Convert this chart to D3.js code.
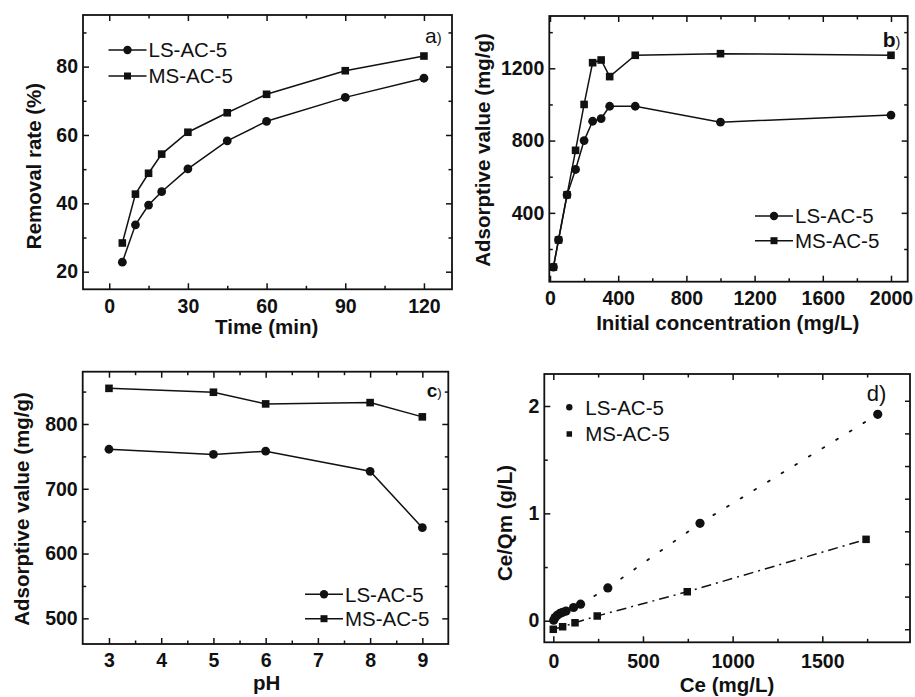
<!DOCTYPE html>
<html>
<head>
<meta charset="utf-8">
<script src="https://cdn.jsdelivr.net/npm/d3@7"></script>
<style>
  body { margin: 0; background: #fff; }
  text { font-family: "Liberation Sans", Arial, sans-serif; fill: #111; }
  .tick text { font-weight: bold; font-size: 19.5px; }
</style>
</head>
<body>
<div id="chart"></div>
<script>
// a) removal rate vs time
const timeMin = [5, 10, 15, 20, 30, 45, 60, 90, 120];
const removalLS = [22.8, 33.7, 39.5, 43.4, 50.1, 58.3, 64.0, 71.0, 76.6];
const removalMS = [28.4, 42.7, 48.8, 54.4, 60.8, 66.5, 71.9, 78.8, 83.1];

// b) adsorptive value vs initial concentration
const concInit = [20, 50, 100, 150, 200, 250, 300, 350, 500, 1000, 2000];
const adsorbLS = [100, 250, 500, 640, 800, 907, 922, 990, 990, 902, 941];
const adsorbMS = [100, 250, 500, 746, 1000, 1231, 1246, 1154, 1272, 1281, 1272];

// c) adsorptive value vs pH
const phValues = [3, 5, 6, 8, 9];
const phLS = [761, 753, 758, 727, 640];
const phMS = [855, 849, 831, 833, 811];

// d) Ce/Qm vs Ce
const ceLS = [2, 10, 22, 37, 52, 71, 113, 152, 304, 818, 1809];
const ceQmLS = [0.005, 0.03, 0.05, 0.068, 0.078, 0.09, 0.123, 0.154, 0.305, 0.907, 1.922];
const ceMS = [0, 52, 121, 245, 747, 1744];
const ceQmMS = [-0.08, -0.056, -0.019, 0.044, 0.27, 0.758];

const seriesNames = ["LS-AC-5", "MS-AC-5"];

const svg = d3.select("#chart").append("svg")
  .attr("width", 915)
  .attr("height", 697);

svg.append("rect").attr("width", 915).attr("height", 697).attr("fill", "#fff");

function zip(xs, ys) {
  return xs.map((v, i) => [v, ys[i]]);
}

function panel(p) {
  const g = svg.append("g");
  const x = d3.scaleLinear().domain(p.xDomain).range([p.left, p.right]);
  const y = d3.scaleLinear().domain(p.yDomain).range([p.bottom, p.top]);

  const tidy = sel => {
    sel.select(".domain").remove();
    sel.attr("font-family", null).attr("font-size", null);
    sel.selectAll("line").attr("stroke", "#111").attr("stroke-width", 1.5);
    sel.selectAll("text").attr("fill", "#111");
  };

  // bottom + top
  g.append("g").attr("transform", `translate(0,${p.bottom})`)
    .call(d3.axisBottom(x).tickValues(p.xTicks).tickSize(-6).tickPadding(p.xPad).tickFormat(d3.format("d")))
    .call(tidy);
  g.append("g").attr("transform", `translate(0,${p.bottom})`)
    .call(d3.axisBottom(x).tickValues(p.xMinor).tickSize(-3.5).tickFormat(""))
    .call(tidy);
  g.append("g").attr("transform", `translate(0,${p.top})`)
    .call(d3.axisTop(x).tickValues(p.xTicks).tickSize(-6).tickFormat(""))
    .call(tidy);
  g.append("g").attr("transform", `translate(0,${p.top})`)
    .call(d3.axisTop(x).tickValues(p.xMinor).tickSize(-3.5).tickFormat(""))
    .call(tidy);

  // left + right
  g.append("g").attr("transform", `translate(${p.left},0)`)
    .call(d3.axisLeft(y).tickValues(p.yTicks).tickSize(-6).tickPadding(5).tickFormat(d3.format("d")))
    .call(tidy);
  g.append("g").attr("transform", `translate(${p.left},0)`)
    .call(d3.axisLeft(y).tickValues(p.yMinor).tickSize(-3.5).tickFormat(""))
    .call(tidy);
  if (p.rightAxis) {
    g.append("g").attr("transform", `translate(${p.right},0)`)
      .call(p.rightAxis.tickFormat(""))
      .call(tidy);
  } else {
    g.append("g").attr("transform", `translate(${p.right},0)`)
      .call(d3.axisRight(y).tickValues(p.yTicks).tickSize(-6).tickFormat(""))
      .call(tidy);
    g.append("g").attr("transform", `translate(${p.right},0)`)
      .call(d3.axisRight(y).tickValues(p.yMinor).tickSize(-3.5).tickFormat(""))
      .call(tidy);
  }

  // frame
  g.append("rect")
    .attr("x", p.left).attr("y", p.top)
    .attr("width", p.right - p.left).attr("height", p.bottom - p.top)
    .attr("fill", "none").attr("stroke", "#111").attr("stroke-width", 1.8);

  // axis titles
  g.append("text")
    .attr("x", p.xTitle[0]).attr("y", p.xTitle[1])
    .attr("text-anchor", "middle")
    .attr("font-size", 20.5).attr("font-weight", "bold")
    .text(p.xLabel);
  g.append("text")
    .attr("transform", `translate(${p.yTitle[0]},${p.yTitle[1]}) rotate(-90)`)
    .attr("text-anchor", "middle")
    .attr("dy", "0.36em")
    .attr("font-size", 20.5).attr("font-weight", "bold")
    .text(p.yLabel);

  return { g, x, y };
}

function drawSeries(pn, pts, shape, opts) {
  opts = opts || {};
  const line = d3.line().x(d => pn.x(d[0])).y(d => pn.y(d[1]));
  pn.g.append("path")
    .datum(pts)
    .attr("d", line)
    .attr("fill", "none")
    .attr("stroke", "#111")
    .attr("stroke-width", opts.width || 1.5)
    .attr("stroke-dasharray", opts.dash || null)
    .attr("stroke-linecap", opts.cap || "butt");
  const r = opts.r || 4.4;
  const s = opts.s || 7.6;
  if (shape === "circle") {
    pn.g.selectAll(null).data(pts).join("circle")
      .attr("cx", d => pn.x(d[0])).attr("cy", d => pn.y(d[1]))
      .attr("r", r).attr("fill", "#111");
  } else {
    pn.g.selectAll(null).data(pts).join("rect")
      .attr("x", d => pn.x(d[0]) - s / 2).attr("y", d => pn.y(d[1]) - s / 2)
      .attr("width", s).attr("height", s).attr("fill", "#111");
  }
}

function legend(pn, lx, ly, gap, withLine, r, s) {
  seriesNames.forEach((name, i) => {
    const yy = ly + i * gap;
    if (withLine) {
      pn.g.append("line")
        .attr("x1", lx).attr("x2", lx + 38).attr("y1", yy).attr("y2", yy)
        .attr("stroke", "#111").attr("stroke-width", 1.5);
    }
    const cx = withLine ? lx + 19 : lx;
    if (i === 0) {
      pn.g.append("circle").attr("cx", cx).attr("cy", yy).attr("r", r).attr("fill", "#111");
    } else {
      pn.g.append("rect").attr("x", cx - s / 2).attr("y", yy - s / 2)
        .attr("width", s).attr("height", s).attr("fill", "#111");
    }
    pn.g.append("text")
      .attr("x", withLine ? lx + 40 : lx + 16).attr("y", yy)
      .attr("dy", "0.36em")
      .attr("font-size", 20.5)
      .text(name);
  });
}

function tag(pn, tx, ty, letter, bold, size) {
  const t = pn.g.append("text").attr("x", tx).attr("y", ty)
    .attr("font-weight", bold ? "bold" : "normal");
  t.append("tspan").attr("font-size", size).text(letter);
  t.append("tspan").attr("font-size", size * 0.7).attr("font-weight", "normal").text(")");
}

// ---- panel a
const pa = panel({
  left: 83, right: 452, top: 15, bottom: 289.3,
  xDomain: [-10, 130.7], yDomain: [14.85, 95.1],
  xTicks: [0, 30, 60, 90, 120], xMinor: [15, 45, 75, 105],
  yTicks: [20, 40, 60, 80], yMinor: [30, 50, 70, 90],
  xPad: 9.5, xLabel: "Time (min)", xTitle: [266.7, 334],
  yLabel: "Removal rate (%)", yTitle: [34, 166]
});
drawSeries(pa, zip(timeMin, removalLS), "circle");
drawSeries(pa, zip(timeMin, removalMS), "square");
legend(pa, 108.5, 50, 26, true, 4.2, 7);
tag(pa, 425, 42.7, "a", false, 21);

// ---- panel b
const pb = panel({
  left: 549.3, right: 907.7, top: 16, bottom: 281.7,
  xDomain: [-4.1, 2098], yDomain: [19, 1489.4],
  xTicks: [0, 400, 800, 1200, 1600, 2000], xMinor: [200, 600, 1000, 1400, 1800],
  yTicks: [400, 800, 1200], yMinor: [200, 600, 1000, 1400],
  xPad: 9, xLabel: "Initial concentration (mg/L)", xTitle: [727.7, 329.5],
  yLabel: "Adsorptive value (mg/g)", yTitle: [483, 150]
});
drawSeries(pb, zip(concInit, adsorbLS), "circle");
drawSeries(pb, zip(concInit, adsorbMS), "square");
legend(pb, 755, 216, 24.7, true, 4.2, 7);
tag(pb, 882.7, 46.7, "b", true, 21);

// ---- panel c
const pc = panel({
  left: 82.7, right: 448.3, top: 371.7, bottom: 644,
  xDomain: [2.497, 9.497], yDomain: [460.4, 880.7],
  xTicks: [3, 4, 5, 6, 7, 8, 9], xMinor: [3.5, 4.5, 5.5, 6.5, 7.5, 8.5],
  yTicks: [500, 600, 700, 800], yMinor: [550, 650, 750, 850],
  xPad: 9.5, xLabel: "pH", xTitle: [266.7, 689.5],
  yLabel: "Adsorptive value (mg/g)", yTitle: [21.7, 509]
});
drawSeries(pc, zip(phValues, phLS), "circle");
drawSeries(pc, zip(phValues, phMS), "square");
legend(pc, 305, 594.3, 24.4, true, 4.2, 7);
tag(pc, 426.7, 396.7, "c", true, 19);

// ---- panel d
const yRight = d3.scaleLinear().domain([-0.4, 7.82]).range([642.3, 374]);
const pd = panel({
  left: 544.3, right: 910, top: 374, bottom: 642.3,
  xDomain: [-50.2, 1989], yDomain: [-0.201, 2.298],
  xTicks: [0, 500, 1000, 1500], xMinor: [250, 750, 1250, 1750],
  yTicks: [0, 1, 2], yMinor: [0.5, 1.5],
  xPad: 12, xLabel: "Ce (mg/L)", xTitle: [727, 691.5],
  yLabel: "Ce/Qm (g/L)", yTitle: [505, 523],
  rightAxis: d3.axisRight(yRight).tickValues(d3.range(0, 8)).tickSize(-5)
});
drawSeries(pd, zip(ceLS, ceQmLS), "circle", { dash: "2,14", cap: "round", r: 4.6, width: 1.8 });
drawSeries(pd, zip(ceMS, ceQmMS), "square", { dash: "10,5,2,5", r: 4.6, s: 7.5 });
legend(pd, 569.3, 407.3, 26.7, false, 3.2, 5.5);
// d) label in regular weight
pd.g.append("text").attr("x", 866.7).attr("y", 401)
  .attr("font-size", 22).text("d)");
</script>
</body>
</html>
